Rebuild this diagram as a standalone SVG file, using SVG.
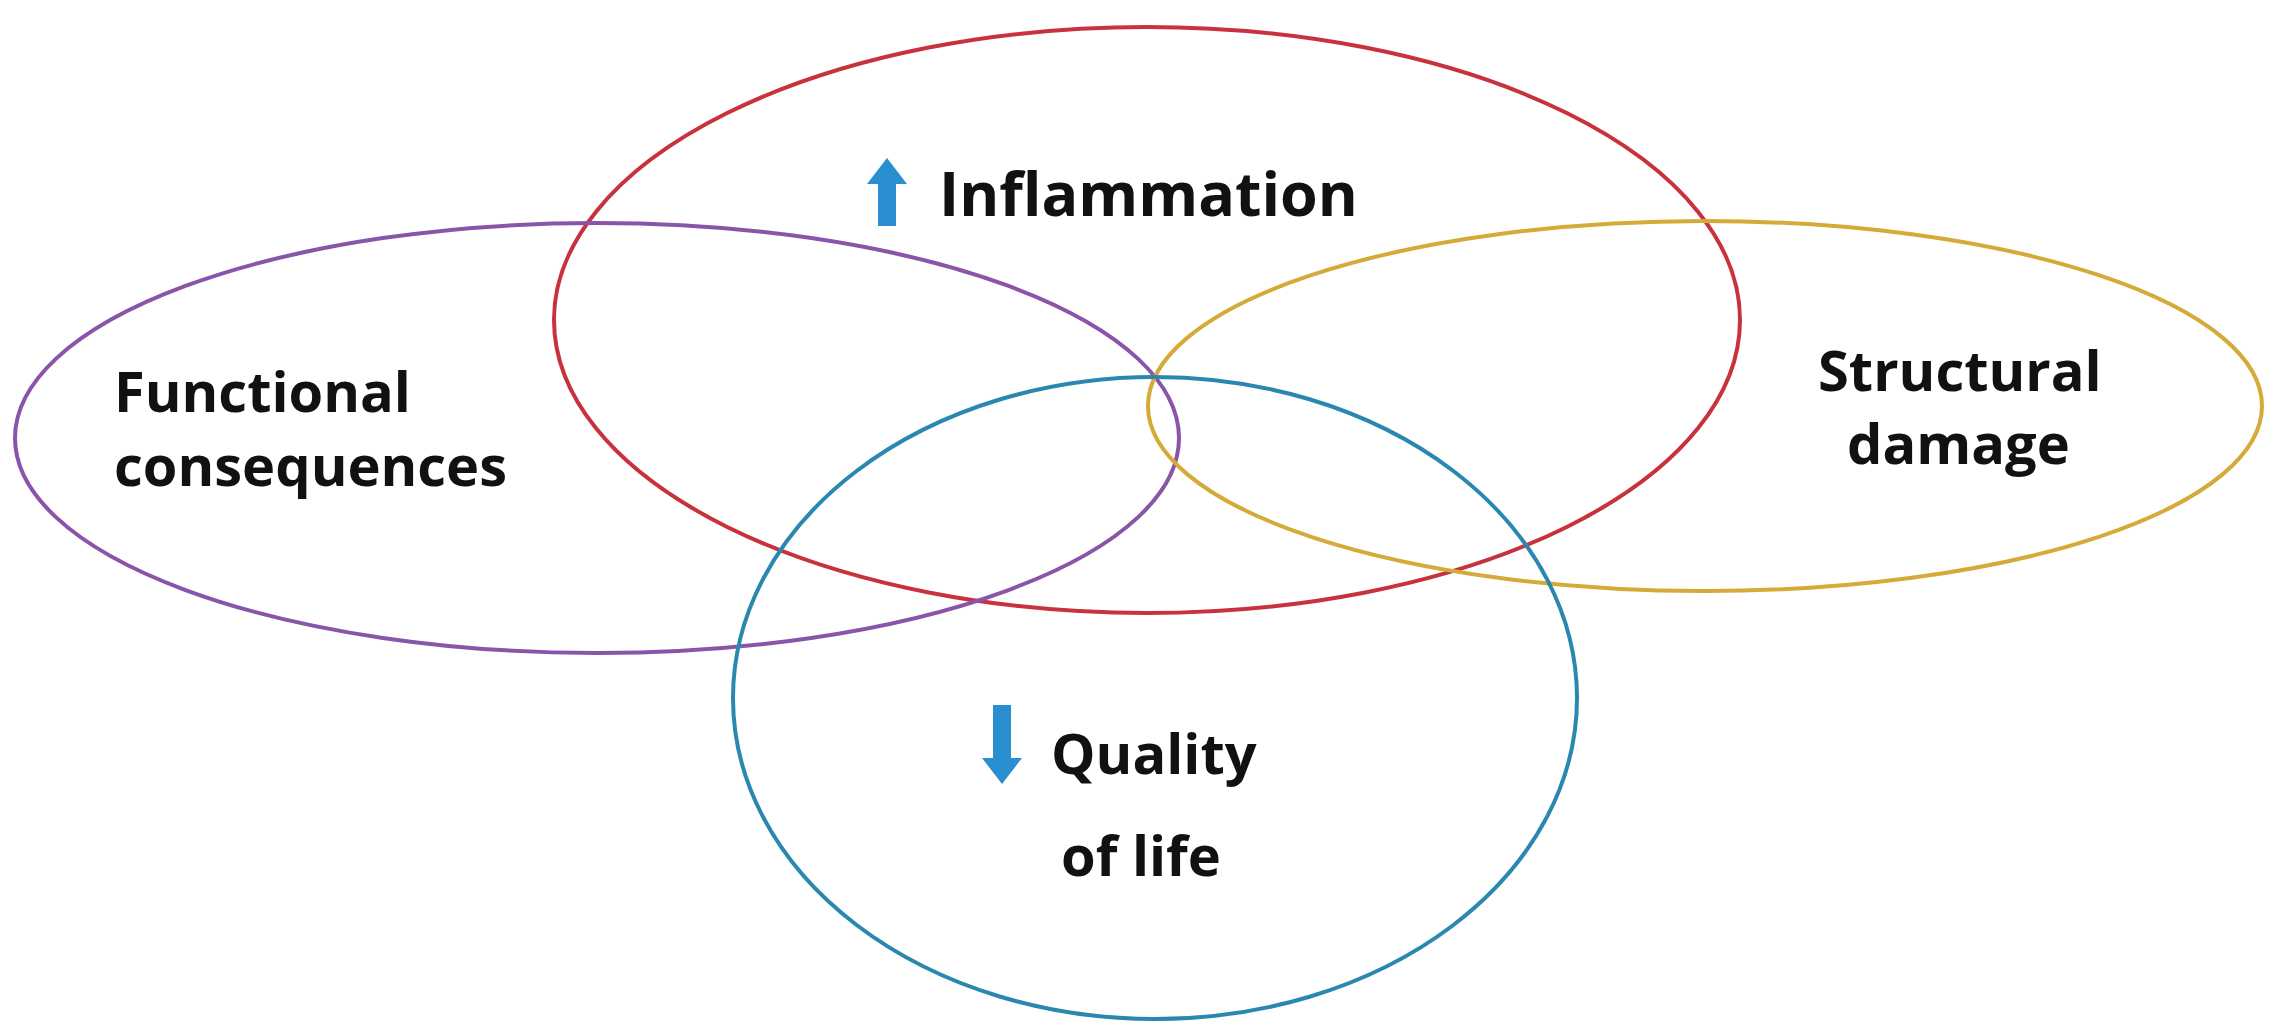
<svg xmlns="http://www.w3.org/2000/svg" width="2289" height="1022" viewBox="0 0 2289 1022">
<style>
.e{fill:none;stroke-width:4}
.t{font-family:"Open Sans","Liberation Sans",sans-serif;font-weight:bold;font-size:56px;fill:#111}
.a{fill:#2a8fd0}
</style>
<rect width="2289" height="1022" fill="#fff"/>
<g id="inflammation"><ellipse class="e" cx="1147" cy="320" rx="593" ry="293" stroke="#c8323c"/>
<polygon class="a" points="887,158 907,184 896,184 896,226 878,226 878,184 867,184"/>
<text class="t" x="939" y="216" style="font-size:61px">Inflammation</text></g>
<g id="functional"><ellipse class="e" cx="597" cy="438" rx="582" ry="215" stroke="#8a55a8"/>
<text class="t" x="114" y="412">Functional</text><text class="t" x="114" y="486">consequences</text></g>
<g id="structural"><ellipse class="e" cx="1705" cy="406" rx="557" ry="185" stroke="#d4aa38"/>
<text class="t" x="1818" y="391">Structural</text><text class="t" x="1847" y="464">damage</text></g>
<g id="quality"><ellipse class="e" cx="1155" cy="698" rx="422" ry="321" stroke="#2a88b0"/>
<polygon class="a" points="1002,784 1022,758 1011,758 1011,705 993,705 993,758 982,758"/>
<text class="t" x="1051" y="774">Quality</text><text class="t" x="1061" y="876">of life</text></g>
<g id="connectors"/>
</svg>
